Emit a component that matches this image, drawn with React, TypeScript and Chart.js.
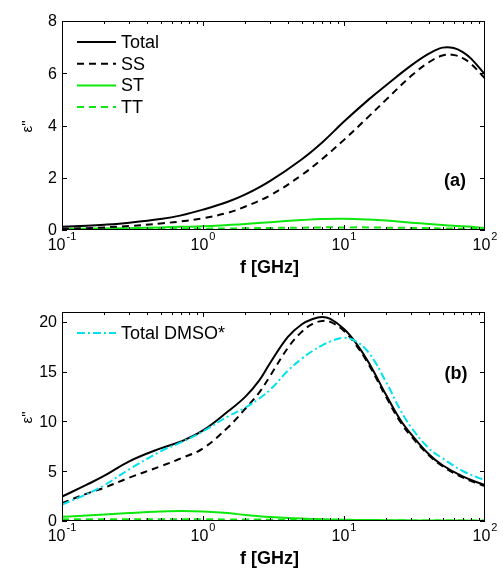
import React, { useEffect, useRef } from 'react';
import { Chart, registerables } from 'chart.js';
Chart.register(...registerables);

// ---------- Panel (a) data ----------
const freqA = [0.1, 0.15, 0.2, 0.3, 0.5, 0.7, 1, 1.5, 2, 3, 5, 7, 10, 15, 20, 30, 40, 50, 60, 70, 80, 100];
const totalA = [0.12, 0.16, 0.2, 0.28, 0.42, 0.56, 0.78, 1.08, 1.36, 1.88, 2.7, 3.35, 4.15, 5.0, 5.55, 6.3, 6.75, 6.98, 6.97, 6.8, 6.55, 5.95];
const ssA = [0.05, 0.07, 0.1, 0.15, 0.25, 0.33, 0.45, 0.66, 0.9, 1.33, 2.1, 2.72, 3.45, 4.35, 5.0, 5.9, 6.42, 6.68, 6.7, 6.57, 6.35, 5.8];
const stA = [0.04, 0.05, 0.06, 0.07, 0.1, 0.12, 0.14, 0.19, 0.23, 0.3, 0.38, 0.42, 0.43, 0.4, 0.36, 0.28, 0.23, 0.19, 0.16, 0.14, 0.12, 0.08];
const ttA = [0.02, 0.02, 0.03, 0.03, 0.04, 0.045, 0.05, 0.06, 0.065, 0.08, 0.09, 0.1, 0.1, 0.1, 0.09, 0.08, 0.07, 0.06, 0.055, 0.05, 0.045, 0.04];
const yTicksA = [0, 2, 4, 6, 8];

// ---------- Panel (b) data ----------
const freqB = [0.1, 0.15, 0.2, 0.3, 0.5, 0.7, 1, 1.5, 2, 2.5, 3, 4, 5, 6, 7, 8, 10, 12, 15, 20, 25, 30, 40, 50, 70, 100];
const totalB = [2.45, 3.65, 4.55, 6.0, 7.3, 8.0, 9.1, 11.0, 12.5, 14.1, 15.9, 18.5, 19.75, 20.3, 20.5, 20.3, 19.3, 18.0, 15.9, 12.6, 10.2, 8.7, 6.7, 5.6, 4.45, 3.6];
const ssB = [1.8, 2.75, 3.35, 4.35, 5.5, 6.3, 7.3, 9.4, 11.3, 12.9, 14.6, 17.4, 19.0, 19.8, 20.1, 20.0, 19.1, 17.8, 15.7, 12.4, 10.0, 8.5, 6.6, 5.5, 4.35, 3.5];
const dmsoB = [1.65, 2.7, 3.6, 5.2, 7.0, 7.9, 9.0, 10.5, 11.4, 12.3, 13.2, 15.1, 16.3, 17.1, 17.65, 18.05, 18.4, 18.1, 16.9, 13.9, 11.2, 9.4, 7.3, 6.3, 5.0, 4.1];
const stB = [0.42, 0.55, 0.65, 0.8, 0.95, 1.0, 0.95, 0.8, 0.6, 0.48, 0.4, 0.3, 0.24, 0.2, 0.18, 0.16, 0.13, 0.11, 0.1, 0.08, 0.07, 0.06, 0.05, 0.05, 0.04, 0.03];
const ttB = [0.18, 0.18, 0.18, 0.18, 0.18, 0.17, 0.17, 0.16, 0.15, 0.14, 0.13, 0.12, 0.11, 0.1, 0.09, 0.09, 0.08, 0.07, 0.07, 0.06, 0.06, 0.05, 0.05, 0.05, 0.04, 0.04];
const yTicksB = [0, 5, 10, 15, 20];

const xDecades = [-1, 0, 1, 2];
const xTitle = 'f [GHz]';
const yTitle = 'ε"';

const BLACK = '#000000';
const GREEN = '#0ce80c';
const CYAN = '#00e2ee';
const FONT = '"Liberation Sans", Arial, Helvetica, sans-serif';

type Series = { label: string; ys: number[]; color: string; dash: number[]; width: number; legend: boolean };

function pts(xs: number[], ys: number[]) {
  return xs.map((x, i) => ({ x, y: ys[i] }));
}

function makePlugin(yTicks: number[], series: Series[], panelLabel: string, labelPos: { x: number; y: number }) {
  return {
    id: 'panelDecor',
    afterDraw(chart: any) {
      const { ctx, chartArea: ca, scales } = chart;
      const xs = scales.x;
      const ys = scales.y;
      ctx.save();
      ctx.strokeStyle = BLACK;
      ctx.lineWidth = 1;
      // box
      ctx.strokeRect(ca.left + 0.5, ca.top + 0.5, ca.right - ca.left - 1, ca.bottom - ca.top - 1);
      // x ticks (major + minor), top and bottom, inward
      ctx.beginPath();
      for (let d = xDecades[0]; d < xDecades[xDecades.length - 1]; d++) {
        for (let m = 1; m <= 9; m++) {
          const v = m * Math.pow(10, d);
          const px = Math.round(xs.getPixelForValue(v)) + 0.5;
          const len = m === 1 ? 5 : 3;
          ctx.moveTo(px, ca.bottom);
          ctx.lineTo(px, ca.bottom - len);
          ctx.moveTo(px, ca.top);
          ctx.lineTo(px, ca.top + len);
        }
      }
      // y ticks left and right
      yTicks.forEach((t) => {
        const py = Math.round(ys.getPixelForValue(t)) + 0.5;
        ctx.moveTo(ca.left, py);
        ctx.lineTo(ca.left + 5, py);
        ctx.moveTo(ca.right, py);
        ctx.lineTo(ca.right - 5, py);
      });
      ctx.stroke();

      // y tick labels
      ctx.fillStyle = BLACK;
      ctx.font = `16px ${FONT}`;
      ctx.textAlign = 'right';
      ctx.textBaseline = 'middle';
      yTicks.forEach((t) => {
        ctx.fillText(String(t), ca.left - 5, ys.getPixelForValue(t) + 1);
      });

      // x tick labels 10^n
      xDecades.forEach((d) => {
        const px = xs.getPixelForValue(Math.pow(10, d));
        ctx.font = `16px ${FONT}`;
        const wBase = ctx.measureText('10').width;
        const expStr = String(d);
        ctx.font = `11px ${FONT}`;
        const wExp = ctx.measureText(expStr).width;
        const x0 = px - (wBase + wExp + 1) / 2;
        const base = ca.bottom + 20;
        ctx.textAlign = 'left';
        ctx.textBaseline = 'alphabetic';
        ctx.font = `16px ${FONT}`;
        ctx.fillText('10', x0, base);
        ctx.font = `11px ${FONT}`;
        ctx.fillText(expStr, x0 + wBase + 1, base - 10);
      });

      // x title
      ctx.font = `bold 18px ${FONT}`;
      ctx.textAlign = 'center';
      ctx.textBaseline = 'middle';
      ctx.fillText(xTitle, (ca.left + ca.right) / 2 - 4, ca.bottom + 38);

      // y title rotated
      ctx.save();
      ctx.translate(28, (ca.top + ca.bottom) / 2 + 1);
      ctx.rotate(-Math.PI / 2);
      ctx.font = `15px ${FONT}`;
      ctx.textAlign = 'center';
      ctx.textBaseline = 'middle';
      ctx.fillText(yTitle, 0, 0);
      ctx.restore();

      // panel label
      ctx.font = `bold 18px ${FONT}`;
      ctx.textAlign = 'center';
      ctx.textBaseline = 'middle';
      ctx.fillText(panelLabel, labelPos.x, labelPos.y);

      // legend
      let ly = ca.top + 21;
      series.filter((s) => s.legend).forEach((s) => {
        ctx.beginPath();
        ctx.strokeStyle = s.color;
        ctx.lineWidth = s.width;
        ctx.setLineDash(s.dash);
        ctx.moveTo(ca.left + 15, ly);
        ctx.lineTo(ca.left + 54, ly);
        ctx.stroke();
        ctx.setLineDash([]);
        ctx.fillStyle = BLACK;
        ctx.font = `18px ${FONT}`;
        ctx.textAlign = 'left';
        ctx.textBaseline = 'middle';
        ctx.fillText(s.label, ca.left + 59, ly + 1);
        ly += 21.7;
      });
      ctx.restore();
    },
  };
}

function makeConfig(freq: number[], series: Series[], yMax: number, yTicks: number[], pad: any, panelLabel: string, labelPos: any) {
  return {
    type: 'line' as const,
    data: {
      datasets: series.map((s) => ({
        label: s.label,
        data: pts(freq, s.ys),
        borderColor: s.color,
        borderWidth: s.width,
        borderDash: s.dash,
        pointRadius: 0,
        fill: false,
        tension: 0.4,
      })),
    },
    options: {
      animation: false as const,
      responsive: false,
      devicePixelRatio: 1,
      layout: { padding: pad },
      plugins: { legend: { display: false }, tooltip: { enabled: false } },
      events: [],
      scales: {
        x: { type: 'logarithmic' as const, min: 0.1, max: 100, display: false },
        y: { type: 'linear' as const, min: 0, max: yMax, display: false },
      },
    },
    plugins: [makePlugin(yTicks, series, panelLabel, labelPos)],
  };
}

const seriesA: Series[] = [
  { label: 'Total', ys: totalA, color: BLACK, dash: [], width: 2, legend: true },
  { label: 'SS', ys: ssA, color: BLACK, dash: [7, 5], width: 2, legend: true },
  { label: 'ST', ys: stA, color: GREEN, dash: [], width: 2, legend: true },
  { label: 'TT', ys: ttA, color: GREEN, dash: [7, 5], width: 2, legend: true },
];

const seriesB: Series[] = [
  { label: 'ST', ys: stB, color: GREEN, dash: [], width: 2, legend: false },
  { label: 'TT', ys: ttB, color: GREEN, dash: [7, 5], width: 2, legend: false },
  { label: 'Total DMSO*', ys: dmsoB, color: CYAN, dash: [8, 3, 2, 3], width: 2, legend: true },
  { label: 'SS', ys: ssB, color: BLACK, dash: [7, 5], width: 2, legend: false },
  { label: 'Total', ys: totalB, color: BLACK, dash: [], width: 2, legend: false },
];

export default function App() {
  const r1 = useRef<HTMLCanvasElement>(null);
  const r2 = useRef<HTMLCanvasElement>(null);
  useEffect(() => {
    const c1 = new Chart(r1.current as HTMLCanvasElement, makeConfig(freqA, seriesA, 8, yTicksA,
      { left: 62, right: 18, top: 21, bottom: 57 }, '(a)', { x: 455, y: 181 }) as any);
    const c2 = new Chart(r2.current as HTMLCanvasElement, makeConfig(freqB, seriesB, 21, yTicksB,
      { left: 62, right: 18, top: 25, bottom: 54 }, '(b)', { x: 456, y: 87 }) as any);
    return () => {
      c1.destroy();
      c2.destroy();
    };
  }, []);
  return (
    <div style={{ position: 'absolute', left: 0, top: 0, width: 503, height: 575, background: '#ffffff' }}>
      <canvas ref={r1} width={503} height={287} style={{ position: 'absolute', left: 0, top: 0 }} />
      <canvas ref={r2} width={503} height={288} style={{ position: 'absolute', left: 0, top: 287 }} />
    </div>
  );
}
